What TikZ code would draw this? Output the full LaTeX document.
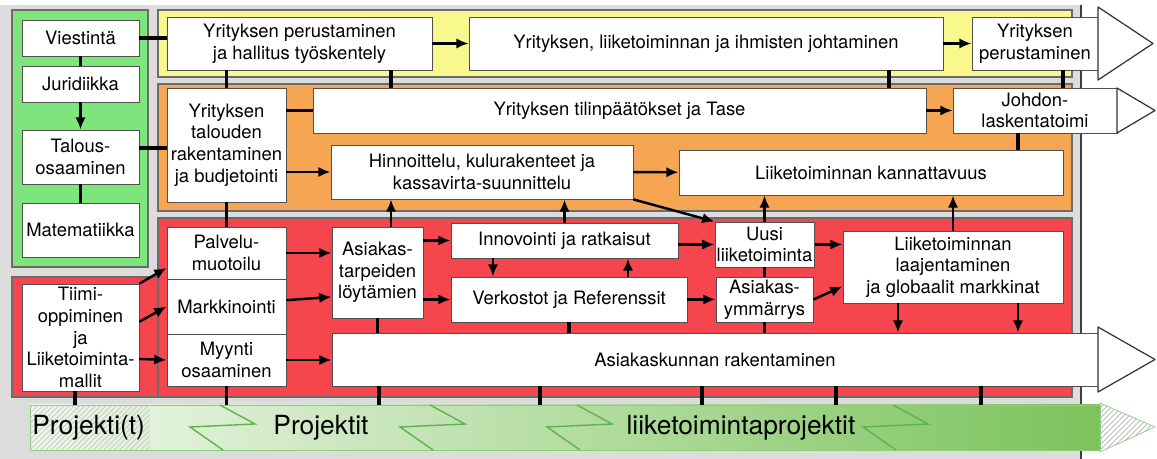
\documentclass[tikz,border=0pt]{standalone}
\usepackage{fontspec}
\setmainfont{TeX Gyre Heros}
\usetikzlibrary{arrows.meta,patterns}

\definecolor{bggray}{HTML}{DCDCDC}
\definecolor{greenp}{HTML}{7EE57C}
\definecolor{yellowp}{HTML}{F8F88C}
\definecolor{orangep}{HTML}{F6A552}
\definecolor{redp}{HTML}{F5464E}
\definecolor{panelline}{HTML}{6B6B6B}
\definecolor{boxline}{HTML}{505050}
\definecolor{barleft}{HTML}{EEF7EA}
\definecolor{barright}{HTML}{7CC35C}
\definecolor{barline}{HTML}{8CCF7A}
\definecolor{zigline}{HTML}{5FB34D}

\begin{document}
\begin{tikzpicture}[x=0.02cm,y=-0.02cm,
        box/.style={draw=boxline,fill=white,line width=0.5pt,align=center,inner sep=1pt,font=\fontsize{10.5}{12.3}\selectfont},
        wh/.style 2 args={minimum width=#1*0.02cm,minimum height=#2*0.02cm},
        panel/.style={draw=panelline,line width=0.6pt},
        link/.style={line width=2pt},
        arr/.style={line width=1.4pt,-{Latex[length=7pt,width=6pt]}},
        head/.style={draw=black!80,fill=white,line width=0.7pt,line join=round},
        zig/.style={draw=zigline,line width=0.8pt},
        bartext/.style={font=\fontsize{15}{17}\selectfont,inner sep=0pt}]
                \useasboundingbox (0,0) rectangle (1157,459);
                \fill[bggray] (0,5) rectangle (1081,459);
                \draw[black!75,line width=0.8pt] (1081,5) -- (1081,459);

                \draw[panel,fill=greenp] (12,10) rectangle (148,267);
                \draw[panel,fill=yellowp] (158,10) rectangle (1072,77);
                \draw[panel,fill=orangep] (158,84) rectangle (1072,211);
                \draw[panel,fill=redp] (158,218) rectangle (1072,397);
                \draw[panel,fill=redp] (12,277) rectangle (158,397);

                \node[box,wh={117}{36}] (Vi) at (80.5,38) {Viestintä};
                \node[box,wh={117}{36}] (Ju) at (80.5,84) {Juridiikka};
                \node[box,wh={117}{54}] (Ta) at (80.5,157) {Talous-\\osaaminen};
                \node[box,wh={117}{54}] (Ma) at (80.5,230) {Matematiikka};

                \node[box,wh={265}{53}] (Yp) at (299.5,43.5) {Yrityksen perustaminen\\ja hallitus työskentely};
                \node[box,wh={474}{53}] (Yj) at (706,43.5) {Yrityksen, liiketoiminnan ja ihmisten johtaminen};
                \node[box,wh={126}{53}] (Ype) at (1035,43.5) {Yrityksen\\perustaminen};

                \node[box,wh={119}{114}] (Bu) at (226.5,145) {Yrityksen\\talouden\\rakentaminen\\ja budjetointi};
                \node[box,wh={613}{45}] (Tt) at (619.5,110.5) {Yrityksen tilinpäätökset ja Tase};
                \node[box,wh={164}{45}] (Jl) at (1035,110.5) {Johdon-\\laskentatoimi};
                \node[box,wh={302}{54}] (Hi) at (482,172) {Hinnoittelu, kulurakenteet ja\\kassavirta-suunnittelu};
                \node[box,wh={384}{45}] (Lk) at (871,172.5) {Liiketoiminnan kannattavuus};

                \node[box,wh={117}{107}] (Ti) at (80.5,337.5) {Tiimi-\\oppiminen\\ja\\Liiketoiminta-\\mallit};
                \node[box,wh={119}{52}] (Pm) at (226.5,253) {Palvelu-\\muotoilu};
                \node[box,wh={119}{55}] (Mk) at (226.5,306.5) {Markkinointi};
                \node[box,wh={119}{52}] (Mo) at (226.5,360) {Myynti\\osaaminen};
                \node[box,wh={91}{91}] (At) at (377.5,272.5) {Asiakas-\\tarpeiden\\löytämien};
                \node[box,wh={766}{53}] (Ak) at (715,359.5) {Asiakaskunnan rakentaminen};
                \node[box,wh={227}{35}] (In) at (564.5,240.5) {Innovointi ja ratkaisut};
                \node[box,wh={236}{45}] (Ve) at (569,299.5) {Verkostot ja Referenssit};
                \node[box,wh={97}{45}] (Ul) at (764.5,244.5) {Uusi\\liiketoiminta};
                \node[box,wh={97}{45}] (Ay) at (764.5,299.5) {Asiakas-\\ymmärrys};
                \node[box,wh={220}{72}] (Lg) at (953,267) {Liiketoiminnan\\laajentaminen\\ja globaalit markkinat};

                \draw[head] (1098,7) -- (1153,43.5) -- (1098,80) -- cycle;
                \draw[head] (1117,88) -- (1155,110.5) -- (1117,133) -- cycle;
                \draw[head] (1098,327) -- (1155,359.5) -- (1098,392) -- cycle;

                \node[draw=barline,line width=0.5pt,left color=barleft,right color=barright,wh={1070}{45},inner sep=0pt] (Pb) at (565,427.5) {};
                \fill[pattern=north east lines,pattern color=gray!45] (30.5,405.5) rectangle (150,449.5);
                \draw[barline,pattern=north east lines,pattern color=gray!60,line join=round] (1100,403) -- (1155,427) -- (1100,452) -- cycle;
                \foreach \z in {190,400,547,863}
                    \draw[zig] (\z+30,405) -- (\z+65,424) -- (\z,427) -- (\z+33,450);
                \node[bartext,anchor=west] (Pt) at (32,428) {Projekti(t)};
                \node[bartext] (Ps) at (321,428) {Projektit};
                \node[bartext] (Lp) at (741,428) {liiketoimintaprojektit};

                \draw[link] (Vi) -- (Ju);
                \draw[arr] (Ju) -- (Ta);
                \draw[link] (Ta) -- (Ma);
                \draw[link] (Vi.east) -- (Vi.east -| Yp.west);
                \draw[link] ([yshift=.18cm]Ta.east) -- ([yshift=.18cm]Ta.east -| Bu.west);

                \draw[arr] (Yp) -- (Yj);
                \draw[arr] (Yj) -- (Ype);
                \draw[link] (Bu.north) -- (Bu.north |- Yp.south);
                \draw[link] (Yp.south -| 391,0) -- (Tt.north -| 391,0);
                \draw[link] (Yj.south -| 889,0) -- (Tt.north -| 889,0);
                \draw[link] (Ype.south -| 1063,0) -- (Jl.north -| 1063,0);

                \draw[link] (Tt.west -| Bu.east) -- (Tt.west);
                \draw[arr] (Hi.west -| Bu.east) -- (Hi.west);
                \draw[arr] (Tt) -- (Jl);
                \draw[arr] (Hi) -- (Lk);
                \draw[link] (Jl.south -| 1018,0) -- (Lk.north -| 1018,0);

                \draw[link] (Bu) -- (Pm);
                \draw[arr] (At.north -| 391,0) -- (Hi.south -| 391,0);
                \draw[arr] (In.north) -- (In.north |- Hi.south);
                \draw[arr] (Hi.south east) -- (Ul.north west);
                \draw[arr] (Ul.north) -- (Ul.north |- Lk.south);
                \draw[arr] (Lg.north) -- (Lg.north |- Lk.south);

                \draw[arr] (Ti.north east) -- (Pm.194);
                \draw[arr] (Ti.15) -- (Mk.west);
                \draw[arr] (Ti.-20) -- (Mo.west);
                \draw[arr] (Pm.east) -- (Pm.east -| At.west);
                \draw[arr] (Mk.6) -- (At.208);
                \draw[arr] (Mo.east) -- (Mo.east -| Ak.west);
                \draw[link] (At.south) -- (At.south |- Ak.north);
                \draw[arr] (In.west -| At.east) -- (In.west);
                \draw[arr] (Ve.west -| At.east) -- (Ve.west);
                \draw[arr] (In.south -| 493,0) -- (Ve.north -| 493,0);
                \draw[arr] (Ve.north -| 628,0) -- (In.south -| 628,0);
                \draw[arr] (Ul.west -| In.east) -- (Ul.west);
                \draw[arr] (Ve.east) -- (Ve.east -| Ay.west);
                \draw[link] (Ve.south) -- (Ve.south |- Ak.north);
                \draw[link] (Ul) -- (Ay);
                \draw[link] (Ay.south) -- (Ay.south |- Ak.north);
                \draw[arr] (Ul.east) -- (Ul.east -| Lg.west);
                \draw[arr] (Ay.east) -- (Lg.190);
                \draw[arr] (Lg.south -| 898,0) -- (Ak.north -| 898,0);
                \draw[arr] (Lg.south -| 1018,0) -- (Ak.north -| 1018,0);

                \draw[link] (Ti.south -| 75,0) -- (Pb.north -| 75,0);
                \draw[link] (Mo.south) -- (Mo.south |- Pb.north);
                \foreach \x in {379,540,702,836,981}
                    \draw[link] (Ak.south -| \x,0) -- (Pb.north -| \x,0);
            \end{tikzpicture}
\end{document}
